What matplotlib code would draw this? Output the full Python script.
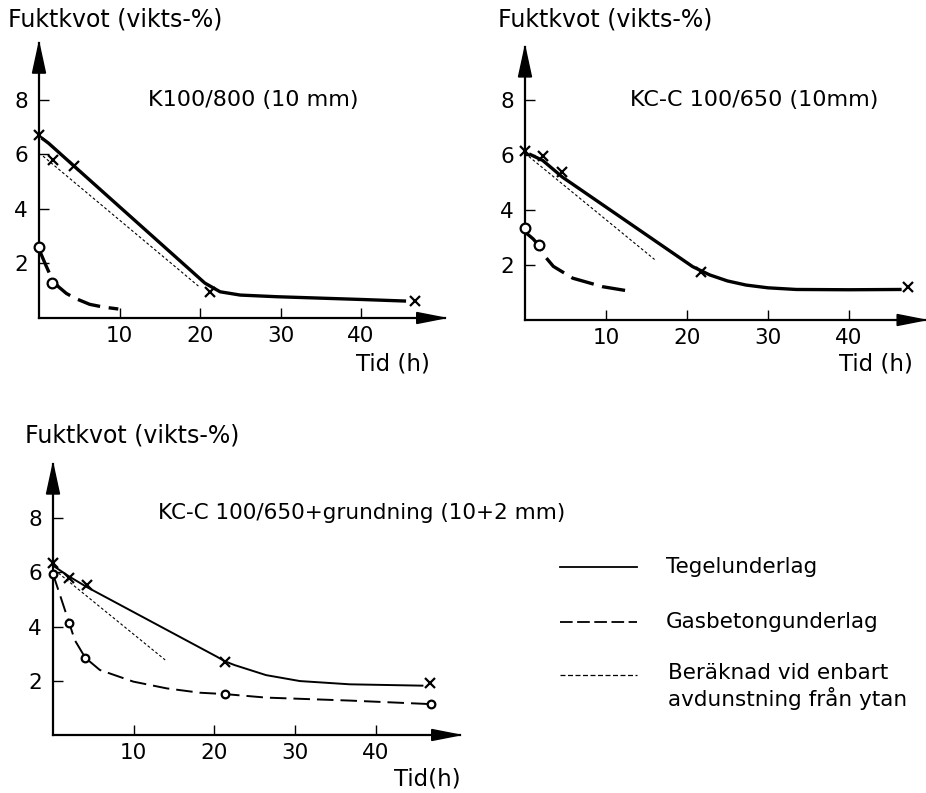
import matplotlib
matplotlib.use("Agg")
import matplotlib.pyplot as plt
from matplotlib.patches import Polygon
from matplotlib.lines import Line2D

plt.rcParams['font.family'] = ['DejaVu Sans']

W, H = 926, 793

# ---------------- data ----------------
# Panel 1: K100/800 (10 mm)
p1_teg_x = [0, 1.7, 4.3, 21.3, 46.7]
p1_teg_y = [6.7, 5.8, 5.57, 0.96, 0.62]
p1_teg_curve_x = [0.3, 1.2, 4.3, 20.6, 22.5, 25.0, 29.5, 39.9, 45.6]
p1_teg_curve_y = [6.6, 6.4, 5.58, 1.28, 0.96, 0.84, 0.78, 0.68, 0.62]
p1_gas_x = [0, 1.65]
p1_gas_y = [2.6, 1.29]
p1_gas_curve_x = [0.1, 0.75, 1.65, 2.4, 3.4, 4.5, 6.3, 8.0, 9.85]
p1_gas_curve_y = [2.45, 2.0, 1.4, 1.15, 0.9, 0.72, 0.5, 0.4, 0.33]
p1_calc_x = [0.5, 19.8]
p1_calc_y = [5.93, 1.17]

# Panel 2: KC-C 100/650 (10 mm)
p2_teg_x = [0, 2.2, 4.6, 21.7, 47.3]
p2_teg_y = [6.15, 5.96, 5.39, 1.76, 1.2]
p2_teg_curve_x = [0.5, 2.2, 4.6, 20.7, 22.8, 25.0, 27.3, 30.0, 33.5, 40.0, 46.5]
p2_teg_curve_y = [6.04, 5.8, 5.2, 1.94, 1.64, 1.42, 1.27, 1.17, 1.11, 1.1, 1.11]
p2_gas_x = [0, 1.75]
p2_gas_y = [3.33, 2.73]
p2_gas_curve_x = [0.2, 1.0, 1.75, 2.5, 3.5, 5.9, 9.6, 13.3]
p2_gas_curve_y = [3.15, 2.95, 2.7, 2.3, 1.95, 1.52, 1.21, 1.03]
p2_calc_x = [0, 16.0]
p2_calc_y = [6.06, 2.2]

# Panel 3: KC-C 100/650 + grundning (10+2 mm)
p3_teg_x = [0, 2.0, 4.25, 21.3, 46.7]
p3_teg_y = [6.33, 5.78, 5.53, 2.7, 1.93]
p3_teg_curve_x = [0, 2.0, 4.25, 20.3, 21.3, 22.5, 26.4, 30.6, 36.8, 45.9]
p3_teg_curve_y = [6.25, 5.85, 5.45, 2.89, 2.72, 2.58, 2.21, 1.99, 1.87, 1.82]
p3_gas_x = [0, 2.0, 4.0, 21.3, 46.8]
p3_gas_y = [5.94, 4.14, 2.85, 1.51, 1.14]
p3_gas_curve_x = [0, 0.66, 2.0, 2.7, 4.0, 5.8, 9.95, 14.1, 18.2, 21.3, 26.4, 36.8, 46.8]
p3_gas_curve_y = [5.94, 5.35, 4.14, 3.5, 2.85, 2.4, 1.97, 1.72, 1.56, 1.51, 1.38, 1.27, 1.14]
p3_calc_x = [0.2, 13.9]
p3_calc_y = [6.09, 2.77]

x_ticks = [10, 20, 30, 40]
y_ticks = [2, 4, 6, 8]
y_label = "Fuktkvot (vikts-%)"
legend_labels = ["Tegelunderlag", "Gasbetongunderlag",
                 "Beräknad vid enbart", "avdunstning från ytan"]

# ---------------- figure ----------------
fig = plt.figure(figsize=(W / 100, H / 100), dpi=100)
fig.patch.set_facecolor("white")

overlay = fig.add_axes([0, 0, 1, 1])
overlay.set_xlim(0, W)
overlay.set_ylim(H, 0)
overlay.axis("off")

TICK_FS = 15.5
TEXT_FS = 16


def make_panel(x0, y0, sx, sy, xmax, ymax, axis_lw=1.6):
    """Axes whose origin sits at pixel (x0, y0), sx/sy pixels per unit."""
    ax = fig.add_axes([x0 / W, (H - y0) / H, xmax * sx / W, ymax * sy / H])
    ax.set_xlim(0, xmax)
    ax.set_ylim(0, ymax)
    ax.patch.set_alpha(0)
    for s in ("top", "right"):
        ax.spines[s].set_visible(False)
    for s in ("left", "bottom"):
        ax.spines[s].set_linewidth(axis_lw)
    ax.set_xticks(x_ticks)
    ax.set_yticks(y_ticks)
    ax.tick_params(direction="in", length=7, width=1.0, labelsize=TICK_FS, pad=6)
    ax.tick_params(axis="y", pad=8)
    # arrow heads
    ya = Polygon([(0, ymax), (-6.5 / sx, ymax - 30 / sy), (6.5 / sx, ymax - 30 / sy)],
                 closed=True, color="black", clip_on=False)
    xa = Polygon([(xmax, 0), (xmax - 28 / sx, 5.5 / sy), (xmax - 28 / sx, -5.5 / sy)],
                 closed=True, color="black", clip_on=False)
    ax.add_patch(ya)
    ax.add_patch(xa)
    return ax


def draw(ax, teg, gas, calc, lw, dash, ms_x, ms_o):
    (tx, ty, tcx, tcy) = teg
    (gx, gy, gcx, gcy) = gas
    (cx, cy) = calc
    ax.plot(cx, cy, color="black", lw=0.8, dashes=(2.5, 2.0), clip_on=False)
    ax.plot(tcx, tcy, color="black", lw=lw, solid_capstyle="butt", clip_on=False)
    ax.plot(gcx, gcy, color="black", lw=lw, dashes=dash, clip_on=False)
    ax.plot(tx, ty, ls="none", marker="x", ms=ms_x, mew=1.6, color="black",
            clip_on=False, zorder=4)
    ax.plot(gx, gy, ls="none", marker="o", ms=ms_o, mew=1.6, mfc="white",
            mec="black", clip_on=False, zorder=4)


# Panel 1
ax1 = make_panel(39, 318, 8.05, 27.3, 50.4, 10.07)
draw(ax1,
     (p1_teg_x, p1_teg_y, p1_teg_curve_x, p1_teg_curve_y),
     (p1_gas_x, p1_gas_y, p1_gas_curve_x, p1_gas_curve_y),
     (p1_calc_x, p1_calc_y), lw=2.4, dash=(7, 2.6), ms_x=7.5, ms_o=7)

# Panel 2
ax2 = make_panel(525, 320, 8.1, 27.5, 49.4, 9.93)
draw(ax2,
     (p2_teg_x, p2_teg_y, p2_teg_curve_x, p2_teg_curve_y),
     (p2_gas_x, p2_gas_y, p2_gas_curve_x, p2_gas_curve_y),
     (p2_calc_x, p2_calc_y), lw=2.4, dash=(7, 2.6), ms_x=7.5, ms_o=7)

# Panel 3
ax3 = make_panel(53, 735, 8.07, 27.1, 50.4, 10.0)
draw(ax3,
     (p3_teg_x, p3_teg_y, p3_teg_curve_x, p3_teg_curve_y),
     (p3_gas_x, p3_gas_y, p3_gas_curve_x, p3_gas_curve_y),
     (p3_calc_x, p3_calc_y), lw=1.4, dash=(8.5, 3.6), ms_x=7.5, ms_o=5.5)

# Titles and axis labels
overlay.text(8, 20, y_label, fontsize=TEXT_FS + 1, ha="left", va="center")
overlay.text(498, 20, y_label, fontsize=TEXT_FS + 1, ha="left", va="center")
overlay.text(25, 435, y_label, fontsize=TEXT_FS + 1, ha="left", va="center")

overlay.text(393, 364, "Tid (h)", fontsize=TEXT_FS + 0.5, ha="center", va="center")
overlay.text(876, 364, "Tid (h)", fontsize=TEXT_FS + 0.5, ha="center", va="center")
overlay.text(427, 779, "Tid(h)", fontsize=TEXT_FS + 0.5, ha="center", va="center")

overlay.text(148, 100, "K100/800 (10 mm)", fontsize=TEXT_FS, ha="left", va="center")
overlay.text(630, 100, "KC-C 100/650 (10mm)", fontsize=TEXT_FS, ha="left", va="center")
overlay.text(158, 513, "KC-C 100/650+grundning (10+2 mm)", fontsize=TEXT_FS - 0.5,
             ha="left", va="center")

# Legend
leg_styles = [dict(lw=1.3), dict(lw=1.3, dashes=(7, 2.5)), dict(lw=0.9, dashes=(4, 2))]
leg_y = [567, 622, 675]
for st, yy in zip(leg_styles, leg_y):
    overlay.add_line(Line2D([560, 637], [yy, yy], color="black", **st))
overlay.text(666, 567, legend_labels[0], fontsize=TEXT_FS - 0.5, ha="left", va="center")
overlay.text(666, 622, legend_labels[1], fontsize=TEXT_FS - 0.5, ha="left", va="center")
overlay.text(668, 673, legend_labels[2], fontsize=TEXT_FS - 0.5, ha="left", va="center")
overlay.text(668, 699, legend_labels[3], fontsize=TEXT_FS - 0.5, ha="left", va="center")

fig.savefig("out.png", dpi=100, facecolor="white")
